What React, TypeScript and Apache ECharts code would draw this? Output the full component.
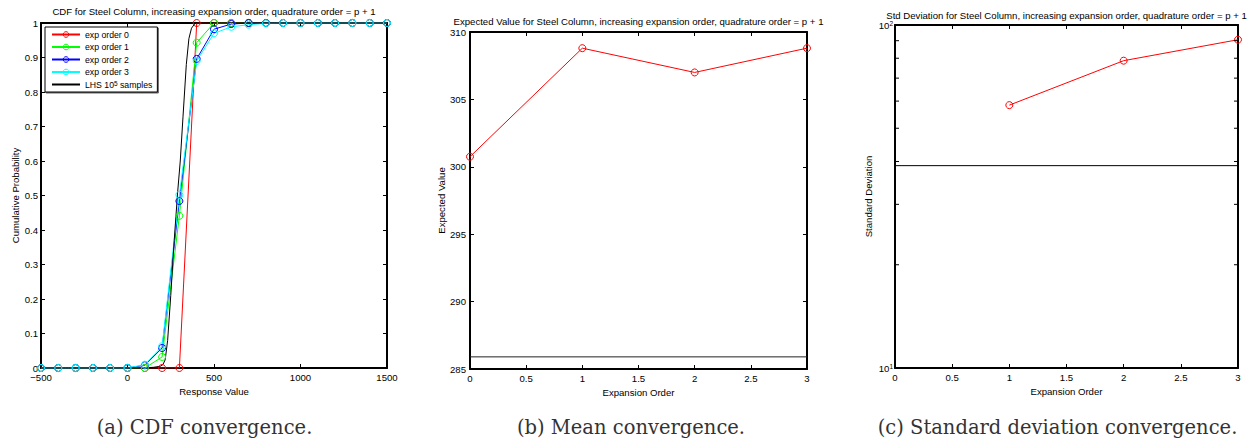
import React, { useEffect, useRef } from "react";
import * as echarts from "echarts";

// ---- CDF panel -------------------------------------------------------------
const responseValues = [
  -500, -400, -300, -200, -100, 0, 100, 200, 300, 400, 500, 600, 700, 800, 900,
  1000, 1100, 1200, 1300, 1400, 1500,
];
const cdfExpOrder0 = [0, 0, 0, 0, 0, 0, 0, 0, 0, 1, 1, 1, 1, 1, 1, 1, 1, 1, 1, 1, 1];
const cdfExpOrder1 = [0, 0, 0, 0, 0, 0, 0, 0.032, 0.441, 0.943, 1, 1, 1, 1, 1, 1, 1, 1, 1, 1, 1];
const cdfExpOrder2 = [0, 0, 0, 0, 0, 0, 0.008, 0.058, 0.484, 0.896, 0.982, 0.997, 1, 1, 1, 1, 1, 1, 1, 1, 1];
const cdfExpOrder3 = [0, 0, 0, 0, 0, 0, 0.0096, 0.063, 0.502, 0.89, 0.97, 0.989, 0.995, 0.999, 1, 1, 1, 1, 1, 1, 1];

// Reference CDF from Latin hypercube sampling
const lhsResponse = [-500, 100, 150, 190, 205, 218, 232, 250, 270, 290, 305, 321, 340, 355, 370, 392, 1500];
const lhsCdf = [0, 0, 0.002, 0.005, 0.01, 0.024, 0.08, 0.21, 0.37, 0.51, 0.6, 0.73, 0.88, 0.955, 0.985, 1, 1];

const cdfSeriesNames = ["exp order 0", "exp order 1", "exp order 2", "exp order 3"];
const cdfSeriesColors = ["#ff0000", "#00ff00", "#0000ff", "#00ffff"];
const lhsName = "LHS 10^5 samples";

// ---- Mean / std panels -----------------------------------------------------
const expansionOrders = [0, 1, 2, 3];
const meanValues = [300.75, 308.8, 307.0, 308.8];
const lhsMean = 285.9;

const stdOrders = [1, 2, 3];
const stdValues = [58.4, 78.7, 90.6];
const lhsStd = 38.9;
const stdMinorTicks = [20, 30, 40, 50, 60, 70, 80, 90];

const titles = [
  "CDF for Steel Column, increasing expansion order, quadrature order = p + 1",
  "Expected Value for Steel Column, increasing expansion order, quadrature order = p + 1",
  "Std Deviation for Steel Column, increasing expansion order, quadrature order = p + 1",
];
const captions = ["(a) CDF convergence.", "(b) Mean convergence.", "(c) Standard deviation convergence."];

const SANS = '"Liberation Sans", Arial, Helvetica, sans-serif';
const FS = 9.6;

const axisLine = { show: true, onZero: false, lineStyle: { color: "#000", width: 2 } };
const axisTick = { show: true, inside: true, length: 4, lineStyle: { color: "#000", width: 1 } };
const labelStyle = { color: "#000", fontSize: FS, fontFamily: SANS };
const nameStyle = { color: "#000", fontSize: FS, fontFamily: SANS };

function xAxisPair(gridIndex: number, min: number, max: number, interval: number, name: string, fmt?: (v: number) => string) {
  const base = { gridIndex, type: "value", min, max, interval, axisLine, axisTick, splitLine: { show: false } };
  return [
    {
      ...base,
      position: "bottom",
      name,
      nameLocation: "middle",
      nameGap: 16,
      nameTextStyle: nameStyle,
      axisLabel: { ...labelStyle, margin: 4, formatter: fmt },
    },
    { ...base, position: "top", axisLabel: { show: false } },
  ];
}

function yAxisPair(gridIndex: number, base: any, name: string, nameGap: number, label: any) {
  const common = { gridIndex, axisLine, axisTick, splitLine: { show: false }, ...base };
  return [
    {
      ...common,
      position: "left",
      name,
      nameLocation: "middle",
      nameGap,
      nameTextStyle: nameStyle,
      axisLabel: label,
    },
    { ...common, position: "right", axisLabel: { show: false } },
  ];
}

const hollowItem = (color: string) => ({ color: "rgba(0,0,0,0)", borderColor: color, borderWidth: 1 });

const hollow = (color: string) => ({
  type: "line",
  symbol: "circle",
  symbolSize: 7,
  lineStyle: { color, width: 1 },
  itemStyle: hollowItem(color),
});

export default function App() {
  const ref = useRef<HTMLDivElement>(null);

  useEffect(() => {
    if (!ref.current) return;
    const chart = echarts.init(ref.current, undefined, { renderer: "svg" });

    const supRich = { sup: { fontSize: 6.5, verticalAlign: "top", lineHeight: 8, fontFamily: SANS, color: "#000" } };

    const cdfSeries = cdfSeriesNames.map((name, i) => {
      const values = [cdfExpOrder0, cdfExpOrder1, cdfExpOrder2, cdfExpOrder3][i];
      return {
        ...hollow(cdfSeriesColors[i]),
        name,
        xAxisIndex: 0,
        yAxisIndex: 0,
        data: responseValues.map((x, j) => [x, values[j]]),
      };
    });

    const option: any = {
      animation: false,
      backgroundColor: "#fff",
      textStyle: { fontFamily: SANS },
      grid: [
        { left: 41, top: 23, width: 346, height: 345 },
        { left: 470, top: 32, width: 337, height: 337 },
        { left: 895, top: 25, width: 343, height: 343 },
      ],
      xAxis: [
        ...xAxisPair(0, -500, 1500, 500, "Response Value", (v: number) => String(v).replace("-", "\u2212")),
        ...xAxisPair(1, 0, 3, 0.5, "Expansion Order"),
        ...xAxisPair(2, 0, 3, 0.5, "Expansion Order"),
      ],
      yAxis: [
        ...yAxisPair(0, { type: "value", min: 0, max: 1, interval: 0.1 }, "Cumulative Probability", 21, {
          ...labelStyle,
          margin: 3,
        }),
        ...yAxisPair(1, { type: "value", min: 285, max: 310, interval: 5 }, "Expected Value", 24, {
          ...labelStyle,
          margin: 4,
        }),
        ...yAxisPair(2, { type: "log", logBase: 10, min: 10, max: 100 }, "Standard Deviation", 22, {
          ...labelStyle,
          margin: 2,
          formatter: (v: number) => `10{sup|${Math.round(Math.log10(v))}}`,
          rich: supRich,
        }),
      ],
      legend: {
        orient: "vertical",
        left: 45,
        top: 27,
        data: [
          ...cdfSeriesNames.map((name, i) => ({ name, itemStyle: hollowItem(cdfSeriesColors[i]) })),
          { name: lhsName, itemStyle: { color: "rgba(0,0,0,0)", borderColor: "rgba(0,0,0,0)", borderWidth: 0 } },
        ],
        selectedMode: false,
        itemWidth: 28,
        itemHeight: 7,
        itemGap: 3.5,
        padding: [3, 5, 3, 6],
        backgroundColor: "#fff",
        borderColor: "#000",
        borderWidth: 1,
        shadowColor: "rgba(0,0,0,0.6)",
        shadowOffsetX: 1,
        shadowOffsetY: 1,
        formatter: (name: string) => name.replace("^5", "{sup|5}"),
        textStyle: { color: "#000", fontSize: 8.7, fontFamily: SANS, rich: supRich },
      },
      series: [
        ...cdfSeries,
        {
          type: "line",
          name: lhsName,
          xAxisIndex: 0,
          yAxisIndex: 0,
          symbol: "none",
          lineStyle: { color: "#000", width: 1 },
          itemStyle: { color: "#000" },
          data: lhsResponse.map((x, j) => [x, lhsCdf[j]]),
        },
        {
          ...hollow("#ff0000"),
          name: "mean",
          xAxisIndex: 2,
          yAxisIndex: 2,
          data: expansionOrders.map((x, j) => [x, meanValues[j]]),
        },
        {
          type: "line",
          name: "LHS mean",
          xAxisIndex: 2,
          yAxisIndex: 2,
          symbol: "none",
          lineStyle: { color: "#222", width: 1 },
          data: [
            [expansionOrders[0], lhsMean],
            [expansionOrders[expansionOrders.length - 1], lhsMean],
          ],
        },
        {
          ...hollow("#ff0000"),
          name: "std",
          xAxisIndex: 4,
          yAxisIndex: 4,
          data: stdOrders.map((x, j) => [x, stdValues[j]]),
        },
        {
          type: "line",
          name: "LHS std",
          xAxisIndex: 4,
          yAxisIndex: 4,
          symbol: "none",
          lineStyle: { color: "#000", width: 1 },
          data: [
            [0, lhsStd],
            [3, lhsStd],
          ],
        },
        {
          // minor ticks of the logarithmic axis, on both sides of the box
          type: "custom",
          name: "log minor ticks",
          xAxisIndex: 4,
          yAxisIndex: 4,
          silent: true,
          clip: false,
          z: 5,
          data: stdMinorTicks.map((v) => [0, v]),
          renderItem: (_params: any, api: any) => {
            const v = api.value(1);
            const l = api.coord([0, v]);
            const r = api.coord([3, v]);
            const style = { stroke: "#000", lineWidth: 1 };
            return {
              type: "group",
              children: [
                { type: "line", shape: { x1: l[0], y1: l[1], x2: l[0] + 4, y2: l[1] }, style },
                { type: "line", shape: { x1: r[0], y1: r[1], x2: r[0] - 4, y2: r[1] }, style },
              ],
            };
          },
        },
      ],
      graphic: [
        ...titles.map((t, i) => ({
          type: "text",
          x: [214, 638.5, 1066.5][i],
          y: [11, 21, 15][i],
          style: {
            text: t,
            fill: "#000",
            font: `${FS}px ${SANS}`,
            align: "center",
            verticalAlign: "middle",
          },
        })),
        ...captions.map((t, i) => ({
          type: "text",
          x: [204.5, 631, 1057.5][i],
          y: 427,
          style: {
            text: t,
            fill: "#333",
            font: '19.5px "DejaVu Serif", "Liberation Serif", serif',
            align: "center",
            verticalAlign: "middle",
          },
        })),
      ],
    };

    chart.setOption(option);
    return () => chart.dispose();
  }, []);

  return (
    <div
      ref={ref}
      style={{ position: "fixed", left: 0, top: 0, width: 1258, height: 438, background: "#fff" }}
    />
  );
}
